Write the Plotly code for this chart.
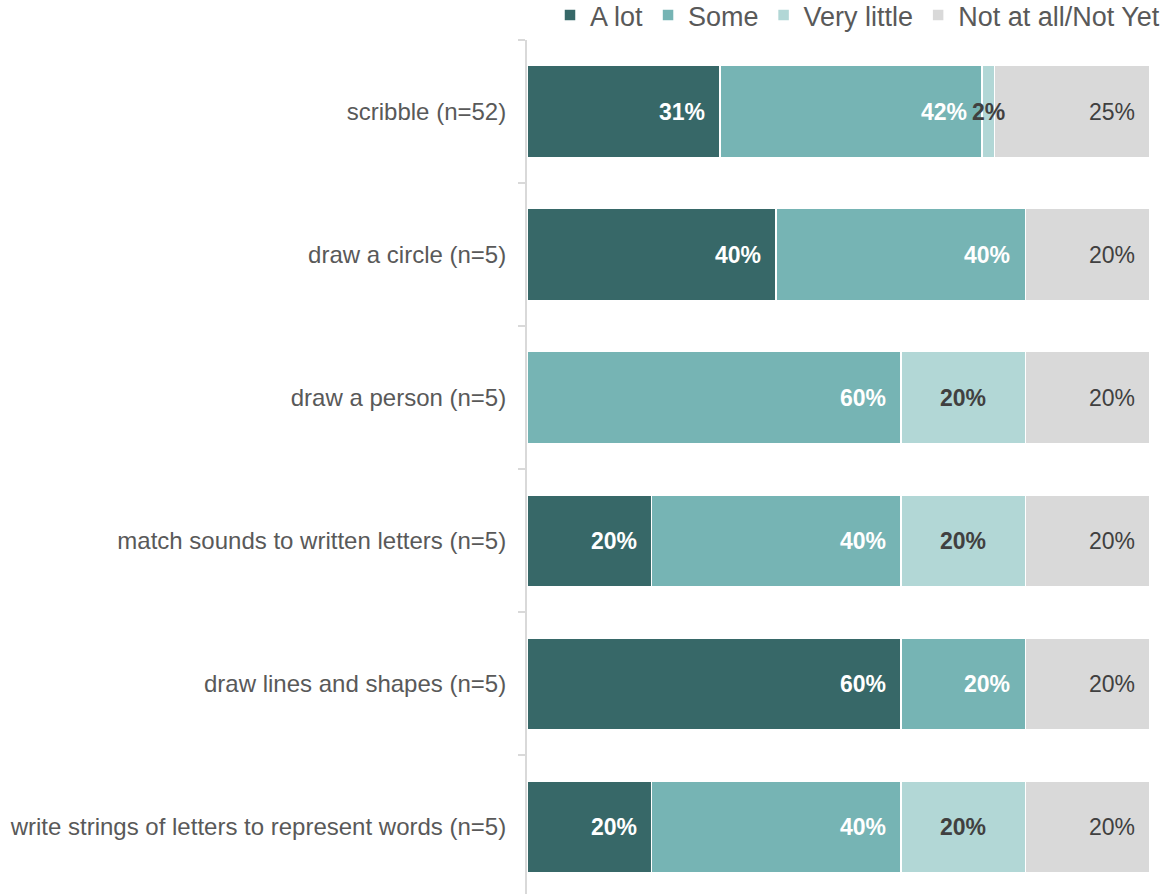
import plotly.graph_objects as go

categories = [
    "scribble (n=52)",
    "draw a circle (n=5)",
    "draw a person (n=5)",
    "match sounds to written letters (n=5)",
    "draw lines and shapes (n=5)",
    "write strings of letters to represent words (n=5)",
]
series_names = ["A lot", "Some", "Very little", "Not at all/Not Yet"]
a_lot = [31, 40, 0, 20, 60, 20]
some = [42, 40, 60, 40, 20, 40]
very_little = [2, 0, 20, 20, 0, 20]
not_at_all = [25, 20, 20, 20, 20, 20]

colors = ["#376868", "#76b4b4", "#b2d7d6", "#d9d9d9"]
label_colors = ["white", "white", "#404040", "#404040"]
label_bold = [True, True, True, False]
label_center = [False, False, True, False]

FONT = "Liberation Sans, Arial, sans-serif"
series = [a_lot, some, very_little, not_at_all]

fig = go.Figure()
for name, vals, col in zip(series_names, series, colors):
    fig.add_trace(go.Bar(
        y=categories, x=vals, name=name, orientation="h",
        marker=dict(color=col, line=dict(color="white", width=1.5)),
        hoverinfo="x+y",
    ))

annotations = []
cum = [0] * len(categories)
for si, vals in enumerate(series):
    for ci, v in enumerate(vals):
        start = cum[ci]
        end = start + v
        cum[ci] = end
        if v <= 0:
            continue
        txt = f"{v}%"
        if label_bold[si]:
            txt = f"<b>{txt}</b>"
        if label_center[si]:
            annotations.append(dict(x=(start + end) / 2, y=categories[ci], xref="x", yref="y",
                                    text=txt, showarrow=False, xanchor="center",
                                    font=dict(family=FONT, size=23, color=label_colors[si])))
        else:
            annotations.append(dict(x=end, y=categories[ci], xref="x", yref="y",
                                    text=txt, showarrow=False, xanchor="right", xshift=-13,
                                    font=dict(family=FONT, size=23, color=label_colors[si])))

fig.update_layout(
    barmode="stack",
    bargap=0.357,
    width=1165, height=894,
    margin=dict(l=527, r=15, t=40, b=0, autoexpand=False),
    paper_bgcolor="white", plot_bgcolor="white",
    font=dict(family=FONT, color="#595959"),
    legend=dict(orientation="h", x=1.0, xref="container", xanchor="right",
                y=1.0, yref="paper", yanchor="bottom",
                font=dict(family=FONT, size=27, color="#595959"),
                traceorder="normal", itemclick=False, entrywidth=0),
    annotations=annotations,
    showlegend=True,
)
fig.update_xaxes(range=[0, 100], showgrid=False, showticklabels=False, zeroline=False,
                 showline=False, ticks="")
fig.update_yaxes(categoryorder="array", categoryarray=categories,
                 range=[5.469, -0.5], showgrid=False, zeroline=False,
                 showline=True, linecolor="#d9d9d9", linewidth=2,
                 ticks="outside", tickson="boundaries", ticklen=7, tickcolor="#d9d9d9",
                 tickwidth=1.5,
                 tickfont=dict(family=FONT, size=24, color="#595959"), ticklabelstandoff=14)

fig.write_html("out.html")
